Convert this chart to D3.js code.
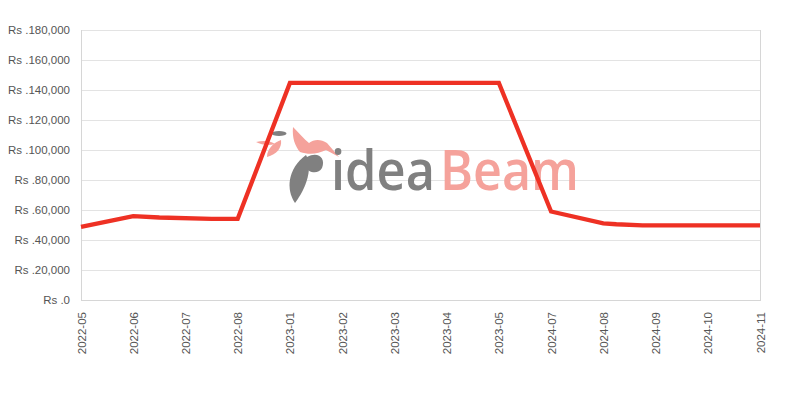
<!DOCTYPE html>
<html>
<head>
<meta charset="utf-8">
<script src="https://cdn.jsdelivr.net/npm/d3@7"></script>
<style>
  html, body { margin: 0; padding: 0; background: #fff; }
  svg { display: block; }
</style>
</head>
<body>
<svg id="chart" width="800" height="400"></svg>
<script>
// ---- data ----
const categories = ["2022-05","2022-06","2022-07","2022-08","2023-01","2023-02","2023-03",
                    "2023-04","2023-05","2024-07","2024-08","2024-09","2024-10","2024-11"];
// position of each recorded price along the category axis (category index units)
const pricePositions = [0, 1, 1.5, 2.5, 3, 4, 8, 9, 10, 10.25, 10.75, 13];
const prices =         [48700, 55900, 55000, 54100, 54100, 144700, 144700, 59000, 51100, 50500, 49800, 49800];
const yTicks = [0, 20000, 40000, 60000, 80000, 100000, 120000, 140000, 160000, 180000];

// ---- layout ----
const svg = d3.select("#chart");
const m = { left: 81, right: 40, top: 30, bottom: 100 };
const W = 800, H = 400;
const x = d3.scaleLinear().domain([0, categories.length - 1]).range([m.left, W - m.right]);
const y = d3.scaleLinear().domain([0, 180000]).range([H - m.bottom, m.top]);

const fmt = v => "Rs ." + d3.format(",")(v);

// gridlines
svg.append("g")
  .selectAll("line").data(yTicks).join("line")
  .attr("x1", m.left).attr("x2", W - m.right)
  .attr("y1", d => y(d) + 0.5).attr("y2", d => y(d) + 0.5)
  .attr("stroke", "#e3e3e3").attr("stroke-width", 1);

// frame lines
svg.append("line").attr("x1", m.left + 0.5).attr("x2", m.left + 0.5)
  .attr("y1", y(180000)).attr("y2", y(0) + 1).attr("stroke", "#d6d6d6");
svg.append("line").attr("x1", W - m.right + 0.5).attr("x2", W - m.right + 0.5)
  .attr("y1", y(180000)).attr("y2", y(0) + 1).attr("stroke", "#d6d6d6");
svg.append("line").attr("x1", m.left).attr("x2", W - m.right)
  .attr("y1", y(0) + 0.5).attr("y2", y(0) + 0.5).attr("stroke", "#d6d6d6");

// y axis labels
const yAxis = d3.axisLeft(y).tickValues(yTicks).tickFormat(fmt).tickSize(0).tickPadding(11);
const gy = svg.append("g").attr("transform", `translate(${m.left},0)`).call(yAxis);
gy.select(".domain").remove();
gy.selectAll("text").attr("fill", "#555").style("font-family", "'Liberation Sans', Arial, sans-serif").style("font-size", "11.5px");

// x axis labels
const xAxis = d3.axisBottom(x).tickValues(d3.range(categories.length))
  .tickFormat(i => categories[i]).tickSize(0);
const gx = svg.append("g").attr("transform", `translate(0,${y(0)})`).call(xAxis);
gx.select(".domain").remove();
gx.selectAll("text")
  .attr("fill", "#555")
  .style("font-family", "'Liberation Sans', Arial, sans-serif").style("font-size", "11.5px")
  .attr("text-anchor", "end")
  .attr("dy", "0.35em")
  .attr("transform", "translate(0,12) rotate(-90)")
  .attr("x", 0).attr("y", 0);

// ---- watermark logo ----
const logo = svg.append("g");
const pink = "#f5a29b", gray = "#808080";
// bird (pink)
logo.append("path").attr("fill", pink)
  .attr("d", "M293,127 C299,133 304,139 309,143 C314,139 321,139 327,143 L339,157 L326,150 C318,154 309,155 300,152 C295,146 292,138 293,127 Z");
// small pink leaves
logo.append("path").attr("fill", pink)
  .attr("d", "M256,142 C264,140 271,141 275,144 C268,146 262,145 256,142 Z");
logo.append("path").attr("fill", pink)
  .attr("d", "M281,140 C282,148 277,154 267,157 C267,149 273,143 281,140 Z");
// small gray feather
logo.append("ellipse").attr("fill", gray).attr("cx", 279).attr("cy", 133.5).attr("rx", 7.5).attr("ry", 2.5);
// gray feather
logo.append("path").attr("fill", gray)
  .attr("d", "M306,155 C313,167 307,187 295,203 C286,190 287,169 306,155 Z");
logo.append("path").attr("fill", gray)
  .attr("d", "M307,157 C318,151 326,158 322,168 C318,175 308,173 305,166 Z");
// text
logo.append("text").attr("x", 331).attr("y", 190)
  .attr("fill", gray).style("font-family", "'Open Sans', 'DejaVu Sans', sans-serif")
  .style("font-size", "56px").style("font-weight", "600")
  .attr("textLength", 104).attr("lengthAdjust", "spacingAndGlyphs").text("idea");
logo.append("text").attr("x", 440).attr("y", 190)
  .attr("fill", pink).style("font-family", "'Open Sans', 'DejaVu Sans', sans-serif")
  .style("font-size", "56px").style("font-weight", "600")
  .attr("textLength", 139).attr("lengthAdjust", "spacingAndGlyphs").text("Beam");

// ---- line ----
const pts = pricePositions.map((p, i) => [p, prices[i]]);
const line = d3.line().x(d => x(d[0])).y(d => y(d[1]));
svg.append("path").datum(pts)
  .attr("fill", "none").attr("stroke", "#ee3124").attr("stroke-width", 4.3)
  .attr("stroke-linejoin", "miter")
  .attr("d", line);
</script>
</body>
</html>
